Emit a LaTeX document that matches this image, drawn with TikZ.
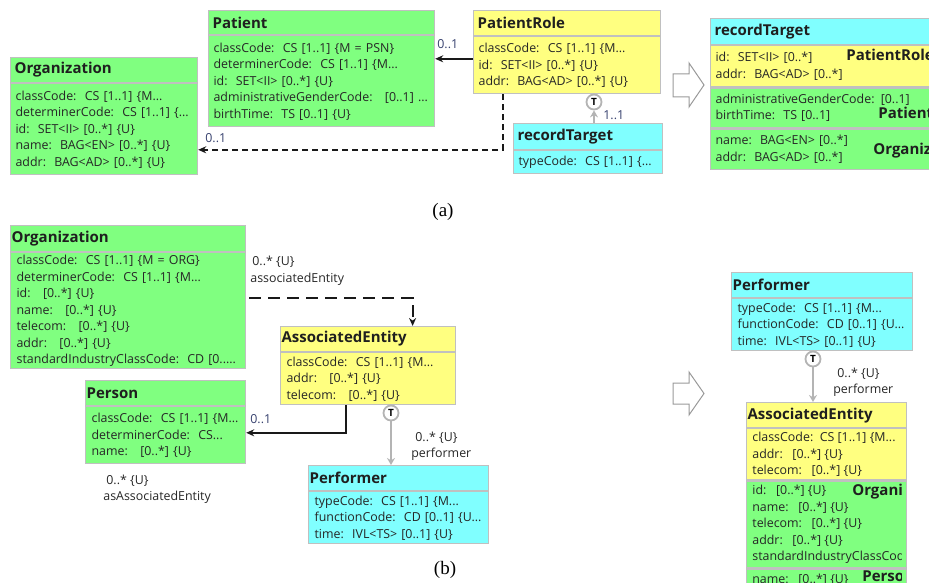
\documentclass[tikz,border=0pt]{standalone}
\usepackage{fontspec}
\setsansfont{Open Sans}
\newfontfamily\capfont{Liberation Serif}
\usetikzlibrary{positioning,arrows.meta}
\definecolor{rimgreen}{RGB}{128,255,128}
\definecolor{rimyellow}{RGB}{255,255,128}
\definecolor{rimcyan}{RGB}{128,255,255}
\definecolor{rimframe}{RGB}{192,192,192}
\definecolor{rimlink}{RGB}{180,180,180}
\definecolor{rimmult}{RGB}{55,65,110}
\tikzset{every picture/.style={line width=0.75pt}}
\tikzset{
  clshead/.style ={rectangle, draw=rimframe, line width=1.2pt, anchor=north west,
                   minimum height=25pt, inner xsep=4pt, inner ysep=0pt, align=left,
                   text=black!88, font=\sffamily\bfseries\fontsize{15}{18}\selectfont},
  clsheadb/.style={clshead, inner xsep=1pt},
  clsbody/.style ={rectangle, draw=rimframe, line width=1.2pt, anchor=north west,
                   inner xsep=5pt, inner ysep=1pt, align=left, text=black!85,
                   font=\sffamily\fontsize{12.4}{16.5}\selectfont},
  clsbodyb/.style={clsbody, inner xsep=6pt},
  clstext/.style ={anchor=west, inner sep=0pt, align=left, text=black!85,
                   font=\sffamily\fontsize{12.4}{16.5}\selectfont},
  clsname/.style ={anchor=west, inner sep=0pt, text=black!88,
                   font=\sffamily\bfseries\fontsize{15}{18}\selectfont},
  clsedge/.style ={-{Stealth[length=8pt,width=7pt]}, line width=2pt, black!90},
  clsdash/.style ={clsedge, dash pattern=on 6pt off 4pt},
  clsdashb/.style={clsedge, dash pattern=on 12pt off 7pt, shorten <=3pt},
  clslink/.style ={-{Stealth[length=7pt,width=8pt]}, line width=2pt, rimlink},
  clstee/.style  ={circle, draw=rimlink, line width=1.8pt, fill=white, minimum size=15pt,
                   inner sep=0pt, font=\sffamily\bfseries\fontsize{10}{10}\selectfont},
  clsmult/.style ={anchor=west, inner sep=0pt, text=black!85,
                   font=\sffamily\fontsize{12.4}{15}\selectfont},
  clsbig/.style  ={draw=black!40, line width=1pt},
  clscap/.style  ={font=\capfont\fontsize{19}{19}\selectfont},
}

\begin{document}
\begin{tikzpicture}[x=1pt, y=-1pt]
        \clip (0,0) rectangle (929,583);
        % (a)
        \node[clshead, fill=rimgreen, text width=179pt] (orga) at (10,57) {Organization};
        \node[clsbody, fill=rimgreen, text width=177pt, minimum height=91pt] (orga-b) at (orga.south west)
          {classCode:~~CS [1..1] \{M...\\ determinerCode:~~CS [1..1] \{...\\ id:~~SET<II> [0..*] \{U\}\\
           name:~~BAG<EN> [0..*] \{U\}\\ addr:~~BAG<AD> [0..*] \{U\}};
        \node[clshead, fill=rimgreen, text width=218pt, minimum height=24pt] (pat) at (208,10) {Patient};
        \node[clsbody, fill=rimgreen, text width=216pt, minimum height=91pt] (pat-b) at (pat.south west)
          {classCode:~~CS [1..1] \{M = PSN\}\\ determinerCode:~~CS [1..1] \{M...\\ id:~~SET<II> [0..*] \{U\}\\
           administrativeGenderCode:~~~[0..1] ...\\ birthTime:~~TS [0..1] \{U\}};
        \node[clshead, fill=rimyellow, text width=179pt] (prole) at (473,10) {PatientRole};
        \node[clsbody, fill=rimyellow, text width=177pt, minimum height=57pt] (prole-b) at (prole.south west)
          {classCode:~~CS [1..1] \{M...\\ id:~~SET<II> [0..*] \{U\}\\ addr:~~BAG<AD> [0..*] \{U\}};
        \node[clshead, fill=rimcyan, text width=141pt, minimum height=26pt] (rtgt) at (513,123) {recordTarget};
        \node[clsbody, fill=rimcyan, text width=139pt, minimum height=23pt] (rtgt-b) at (rtgt.south west)
          {typeCode:~~CS [1..1] \{...};
        \node[clstee] (ta) at (594,102) {T};

        \draw[clsedge] ([yshift=6.5pt]prole-b.west) -- ([yshift=22.5pt]pat-b.east);
        \draw[clsdash] ([xshift=-64.5pt]prole-b.south) |- ([yshift=-20.5pt]orga-b.east);
        \draw[clslink] (ta |- rtgt.north) -- (ta);
        \node[clsmult, text=rimmult] (mpat) at (437,44) {0..1};
        \node[clsmult, text=rimmult] (morga) at (205,138) {0..1};
        \node[clsmult, text=rimmult] (mrole) at (603,115) {1..1};

        \draw[clsbig] (673,74) -- (689,74) -- (689,63) -- (704,85) -- (689,107) -- (689,97) -- (673,97) -- cycle;

        \node[clshead, fill=rimcyan, text width=242pt, minimum height=26pt] (rtgtr) at (710,18) {recordTarget};
        \node[clsbody, fill=rimyellow, text width=240pt, minimum height=41pt] (rtgtr-y) at (rtgtr.south west)
          {id:~~SET<II> [0..*]\\ addr:~~BAG<AD> [0..*]};
        \node[clsbody, fill=rimgreen, text width=240pt, minimum height=40pt] (rtgtr-g) at (rtgtr-y.south west)
          {administrativeGenderCode: [0..1]\\ birthTime:~~TS [0..1]};
        \node[clsbody, fill=rimgreen, text width=240pt, minimum height=40pt] (rtgtr-o) at (rtgtr-g.south west)
          {name:~~BAG<EN> [0..*]\\ addr:~~BAG<AD> [0..*]};
        \node[clsname] (rtgtr-yn) at (846,55) {PatientRole};
        \node[clsname] (rtgtr-gn) at (878,113) {Patient};
        \node[clsname] (rtgtr-on) at (873,151) {Organization};

        \node[clscap] (capa) at (443,212) {(a)};

        % (b)
        \node[clsheadb, fill=rimgreen, text width=233pt, minimum height=26pt] (orgb) at (10,225) {Organization};
        \node[clsbodyb, fill=rimgreen, text width=223pt, minimum height=116pt] (orgb-b) at (orgb.south west)
          {classCode:~~CS [1..1] \{M = ORG\}\\ determinerCode:~~CS [1..1] \{M...\\ id:~~~[0..*] \{U\}\\
           name:~~~[0..*] \{U\}\\ telecom:~~~[0..*] \{U\}\\ addr:~~~[0..*] \{U\}\\
           standardIndustryClassCode:~~CD [0.....};
        \node[clsheadb, fill=rimyellow, text width=173pt] (asent) at (280,326) {AssociatedEntity};
        \node[clsbodyb, fill=rimyellow, text width=163pt, minimum height=52pt] (asent-b) at (asent.south west)
          {classCode:~~CS [1..1] \{M...\\ addr:~~~[0..*] \{U\}\\ telecom:~~~[0..*] \{U\}};
        \node[clsheadb, fill=rimgreen, text width=158pt] (pers) at (85,380) {Person};
        \node[clsbodyb, fill=rimgreen, text width=148pt, minimum height=57pt] (pers-b) at (pers.south west)
          {classCode:~~CS [1..1] \{M...\\ determinerCode:~~CS...\\ name:~~~[0..*] \{U\}};
        \node[clsheadb, fill=rimcyan, text width=178pt] (perfb) at (308,465) {Performer};
        \node[clsbodyb, fill=rimcyan, text width=168pt, minimum height=52pt] (perfb-b) at (perfb.south west)
          {typeCode:~~CS [1..1] \{M...\\ functionCode:~~CD [0..1] \{U...\\ time:~~IVL<TS> [0..1] \{U\}};
        \node[clstee] (tb) at (391,413) {T};

        \draw[clsdashb] ([yshift=13pt]orgb-b.east) -| ([xshift=44.5pt]asent.north);
        \draw[clsedge] ([xshift=-22.5pt]asent-b.south) |- ([yshift=2.5pt]pers-b.east);
        \draw[clslink] (tb) -- (tb |- perfb.north);
        \node[clsmult] (massoc) at (252,262) {0..* \{U\}};
        \node[clsmult] (nassoc) at (250,279) {associatedEntity};
        \node[clsmult, text=rimmult] (mpers) at (250,419) {0..1};
        \node[clsmult] (masas) at (106,481) {0..* \{U\}};
        \node[clsmult] (nasas) at (103,497) {asAssociatedEntity};
        \node[clsmult] (mperf) at (415,438) {0..* \{U\}};
        \node[clsmult] (nperf) at (411,454) {performer};

        \draw[clsbig] (673,383) -- (689,383) -- (689,372) -- (704,393.5) -- (689,415) -- (689,404) -- (673,404) -- cycle;

        \node[clsheadb, fill=rimcyan, text width=179pt] (perfr) at (731,272) {Performer};
        \node[clsbodyb, fill=rimcyan, text width=169pt, minimum height=52pt] (perfr-b) at (perfr.south west)
          {typeCode:~~CS [1..1] \{M...\\ functionCode:~~CD [0..1] \{U...\\ time:~~IVL<TS> [0..1] \{U\}};
        \node[clstee] (tr) at (813,359) {T};
        \node[clsheadb, fill=rimyellow, text width=158pt] (asentr) at (746,402) {AssociatedEntity};
        \draw[clslink] (tr) -- (tr |- asentr.north);
        \node[clsmult] (mperfr) at (837,374) {0..* \{U\}};
        \node[clsmult] (nperfr) at (833,390) {performer};

        \node[clsbody, fill=rimyellow, minimum width=160pt, minimum height=51pt] (asentr-y) at (asentr.south west) {};
        \node[clsbody, fill=rimgreen, minimum width=160pt, minimum height=87pt] (asentr-g) at (asentr-y.south west) {};
        \node[clsbody, fill=rimgreen, minimum width=160pt, minimum height=22pt] (asentr-p) at (asentr-g.south west) {};
        \begin{scope}
          \clip (asentr-y.north west) rectangle ([xshift=-6pt]asentr-p.south east);
          \node[clstext] (asentr-yt) at ([xshift=6pt]asentr-y.west)
            {classCode:~~CS [1..1] \{M...\\ addr:~~~[0..*] \{U\}\\ telecom:~~~[0..*] \{U\}};
          \node[clstext] (asentr-gt) at ([xshift=6pt]asentr-g.west)
            {id:~~~[0..*] \{U\}\\ name:~~~[0..*] \{U\}\\ telecom:~~~[0..*] \{U\}\\ addr:~~~[0..*] \{U\}\\
             standardIndustryClassCode:~~CD [0.....};
          \node[clstext] (asentr-pt) at ([xshift=6pt]asentr-p.west) {name:~~~[0..*] \{U\}};
          \node[clsname] (asentr-gn) at (852,492) {Organization};
          \node[clsname] (asentr-pn) at (862,576) {Person};
        \end{scope}

        \node[clscap] (capb) at (445,570) {(b)};
\end{tikzpicture}
\end{document}
